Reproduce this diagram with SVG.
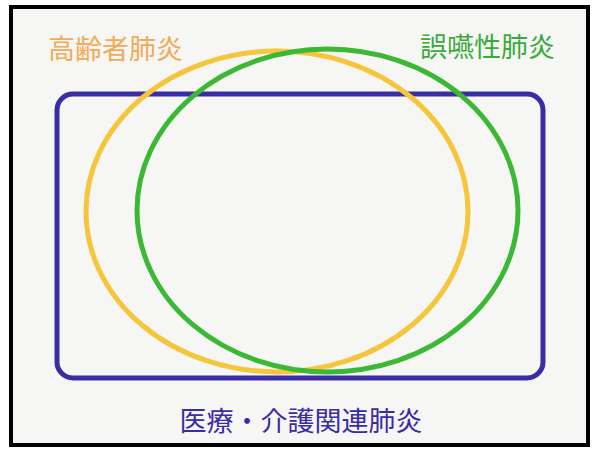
<svg xmlns="http://www.w3.org/2000/svg" width="596" height="450" viewBox="0 0 596 450">
<style>
.lbl{font-family:"Noto Sans CJK JP","Noto Sans",sans-serif;font-size:27px}
.shape{fill:none;stroke-width:5}
</style>
<rect x="0" y="0" width="596" height="450" fill="#ffffff"/>
<rect x="11" y="7" width="577" height="438" fill="#f6f6f4" stroke="#000" stroke-width="4"/>
<g id="medical-care">
<rect class="shape" x="57" y="94" width="486" height="284" rx="16" stroke="#3a2ca4"/>
<text class="lbl" x="301" y="431" text-anchor="middle" fill="#3a2ca4">医療・介護関連肺炎</text>
</g>
<g id="elderly">
<ellipse class="shape" cx="277" cy="211.5" rx="191" ry="160.5" stroke="#f5c53c"/>
<text class="lbl" x="48" y="59" fill="#f2aa55">高齢者肺炎</text>
</g>
<g id="aspiration">
<ellipse class="shape" cx="327.5" cy="210.5" rx="190.5" ry="161.5" stroke="#3cb934"/>
<text class="lbl" x="420" y="57" fill="#3aaa3c">誤嚥性肺炎</text>
</g>
<g id="connectors"/>
</svg>
